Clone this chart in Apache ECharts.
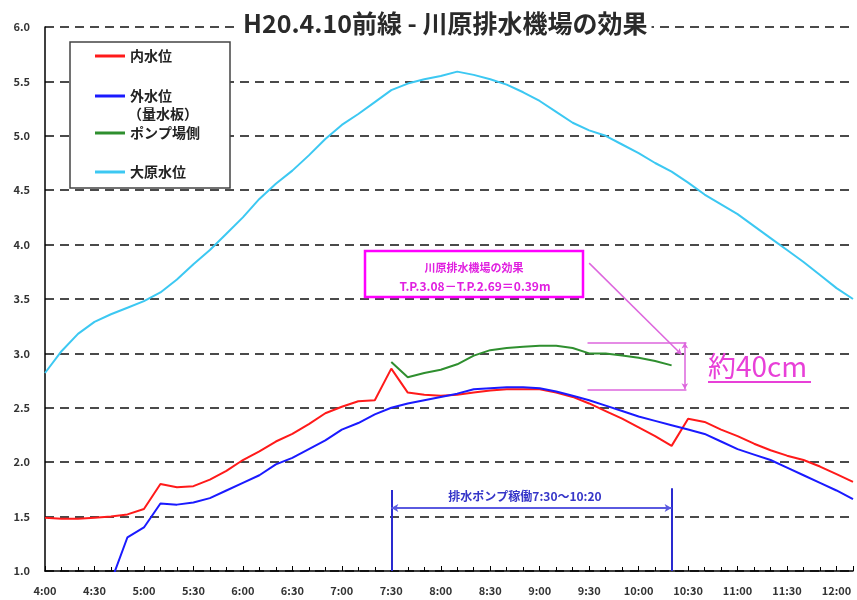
<!DOCTYPE html>
<html><head><meta charset="utf-8">
<script src="https://cdn.jsdelivr.net/npm/echarts@6/dist/echarts.min.js"></script>
<style>html,body{margin:0;padding:0;background:#fff}#c{width:857px;height:600px}</style>
</head><body><div id="c"></div>
<script>
const times = ['4:00','4:10','4:20','4:30','4:40','4:50','5:00','5:10','5:20','5:30',
  '5:40','5:50','6:00','6:10','6:20','6:30','6:40','6:50','7:00','7:10',
  '7:20','7:30','7:40','7:50','8:00','8:10','8:20','8:30','8:40','8:50',
  '9:00','9:10','9:20','9:30','9:40','9:50','10:00','10:10','10:20','10:30',
  '10:40','10:50','11:00','11:10','11:20','11:30','11:40','11:50','12:00','12:10'];
const naisui = [1.49,1.48,1.48,1.49,1.50,1.52,1.57,1.80,1.77,1.78,
  1.84,1.92,2.02,2.10,2.19,2.26,2.35,2.45,2.51,2.56,
  2.57,2.86,2.64,2.62,2.61,2.62,2.64,2.66,2.67,2.67,
  2.67,2.64,2.60,2.54,2.47,2.40,2.32,2.24,2.15,2.40,
  2.37,2.30,2.24,2.17,2.11,2.06,2.02,1.96,1.89,1.82];
const gaisui = [null,null,null,null,0.90,1.31,1.40,1.62,1.61,1.63,
  1.67,1.74,1.81,1.88,1.98,2.04,2.12,2.20,2.30,2.36,
  2.44,2.50,2.54,2.57,2.60,2.63,2.67,2.68,2.69,2.69,
  2.68,2.65,2.61,2.57,2.52,2.47,2.42,2.38,2.34,2.30,
  2.26,2.19,2.12,2.07,2.02,1.95,1.88,1.81,1.74,1.66];
const pumpSide = [null,null,null,null,null,null,null,null,null,null,
  null,null,null,null,null,null,null,null,null,null,
  null,2.92,2.78,2.82,2.85,2.90,2.98,3.03,3.05,3.06,
  3.07,3.07,3.05,3.00,3.00,2.98,2.96,2.93,2.89,null,
  null,null,null,null,null,null,null,null,null,null];
const ohara = [2.82,3.02,3.18,3.29,3.36,3.42,3.48,3.56,3.68,3.82,
  3.95,4.10,4.25,4.42,4.56,4.68,4.82,4.97,5.10,5.20,
  5.31,5.42,5.48,5.52,5.55,5.59,5.56,5.52,5.47,5.40,
  5.32,5.22,5.12,5.05,5.00,4.92,4.84,4.75,4.67,4.57,
  4.46,4.37,4.28,4.17,4.06,3.95,3.84,3.72,3.60,3.50];
const seriesNames = ['内水位','外水位（量水板）','ポンプ場側','大原水位'];
const seriesColors = ['#ff1a1a','#1a1aff','#2f8f2f','#3cc8f2'];
const titleText = 'H20.4.10前線 - 川原排水機場の効果';
const effectLines = ['川原排水機場の効果','T.P.3.08－T.P.2.69＝0.39m'];
const pumpText = '排水ポンプ稼働7:30～10:20';
const diffText = '約40cm';

function toMin(s){const p=s.split(':');return (+p[0])*60+(+p[1]);}
function pairs(vals){return times.map((t,i)=>[toMin(t), vals[i]]);}
function fmt(m){const h=Math.floor(m/60), mm=m%60;return h+':'+(mm<10?'0':'')+mm;}

const FF = '"Noto Sans CJK JP","Noto Sans",sans-serif';
const allVals = [naisui,gaisui,pumpSide,ohara];

const series = allVals.map((v,i)=>({
  name: seriesNames[i], type:'line', data: pairs(v), showSymbol:false,
  lineStyle:{width:2,color:seriesColors[i]}, itemStyle:{color:seriesColors[i]},
  connectNulls:false, animation:false, z:3
}));

const magenta = '#dd66dd';
series.push({
  name:'annoM', type:'line', data:[], silent:true, animation:false,
  markLine:{silent:true, animation:false, symbol:['none','none'], label:{show:false},
    lineStyle:{color:magenta,width:1.5,type:'solid'},
    data:[
      [{coord:[570,3.83]},{coord:[626,2.99],symbol:'arrow',symbolSize:[5,6]}],
      [{coord:[569,3.10]},{coord:[629,3.10]}],
      [{coord:[569,2.67]},{coord:[629,2.67]}],
      [{coord:[628,3.10],symbol:'arrow',symbolSize:[5,6]},{coord:[628,2.67],symbol:'arrow',symbolSize:[5,6]}]
    ]}
});
series.push({
  name:'annoB', type:'line', data:[], silent:true, animation:false,
  markLine:{silent:true, animation:false, symbol:['none','none'], label:{show:false},
    lineStyle:{color:'#2a2ad0',width:2,type:'solid'},
    data:[
      [{coord:[450,1.0]},{coord:[450,1.745]}],
      [{coord:[620,1.0]},{coord:[620,1.76]}],
      [{coord:[450,1.58],symbol:'arrow',symbolSize:[6,7],lineStyle:{color:'#5a5ae0'}},{coord:[620,1.58],symbol:'arrow',symbolSize:[6,7],lineStyle:{color:'#5a5ae0'}}]
    ]}
});

const legendTops = [49,89,126,165];
const legends = seriesNames.map((n,i)=>({
  data:[n], left:95, top:legendTops[i], orient:'vertical', padding:0,
  itemWidth:30, itemHeight:3, icon:'rect', selectedMode:false, z:10,
  formatter: i===1 ? '外水位' : '{name}',
  textStyle:{fontSize:14,fontWeight:'bold',color:'#222',fontFamily:FF}
}));

const chart = echarts.init(document.getElementById('c'));
chart.setOption({
  backgroundColor:'#fff',
  animation:false,
  title:{text:titleText,left:239,top:9,padding:[2,4],backgroundColor:'#fff',z:8,
    textStyle:{fontSize:25,fontWeight:'bold',color:'#2a2a2a',fontFamily:FF}},
  legend: legends,
  grid:{left:45,right:4,top:27,bottom:29,containLabel:false},
  xAxis:{type:'value',min:240,max:730,interval:30,
    axisLine:{lineStyle:{color:'#000',width:1.5}},
    axisTick:{inside:true,length:5,lineStyle:{color:'#000'}},
    minorTick:{show:true,splitNumber:3,length:4,lineStyle:{color:'#000'}},
    splitLine:{show:false},
    axisLabel:{formatter:v=>fmt(v),fontSize:11,fontWeight:'bold',color:'#333',fontFamily:FF,margin:14,
      showMaxLabel:false}
  },
  yAxis:{type:'value',min:1,max:6,interval:0.5,
    axisLine:{show:true,lineStyle:{color:'#000',width:1.5}},
    axisTick:{show:false},
    splitLine:{show:true,lineStyle:{color:'#4a4a4a',width:2,type:[9,6]}},
    axisLabel:{formatter:v=>v.toFixed(1),fontSize:11,fontWeight:'bold',color:'#333',fontFamily:FF,margin:15}
  },
  series: series,
  graphic:{elements:[
    {type:'rect',z:5,shape:{x:70,y:42,width:160,height:146},style:{fill:'#fff',stroke:'#444',lineWidth:1.5}},
    {type:'text',z:11,x:128,y:114,style:{text:'（量水板）',font:'bold 14px '+FF,fill:'#222',verticalAlign:'middle'}},
    {type:'rect',z:5,shape:{x:365,y:251,width:218,height:46},style:{fill:'#fff',stroke:'#ff00ff',lineWidth:2.5}},
    {type:'text',z:6,x:474,y:268,style:{text:effectLines[0],font:'bold 11px '+FF,fill:'#e020e0',align:'center',verticalAlign:'middle'}},
    {type:'text',z:6,x:475,y:286,style:{text:effectLines[1],font:'bold 12px '+FF,fill:'#e020e0',align:'center',verticalAlign:'middle'}},
    {type:'text',z:6,x:525,y:496,style:{text:pumpText,font:'bold 12px '+FF,fill:'#3535c8',align:'center',verticalAlign:'middle'}},
    {type:'text',z:6,x:708,y:366,style:{text:diffText,font:'28px '+FF,fill:'#e840d8',align:'left',verticalAlign:'middle'}},
    {type:'line',z:6,shape:{x1:708,y1:382,x2:811,y2:382},style:{stroke:'#e840d8',lineWidth:2}}
  ]}
});
</script></body></html>
